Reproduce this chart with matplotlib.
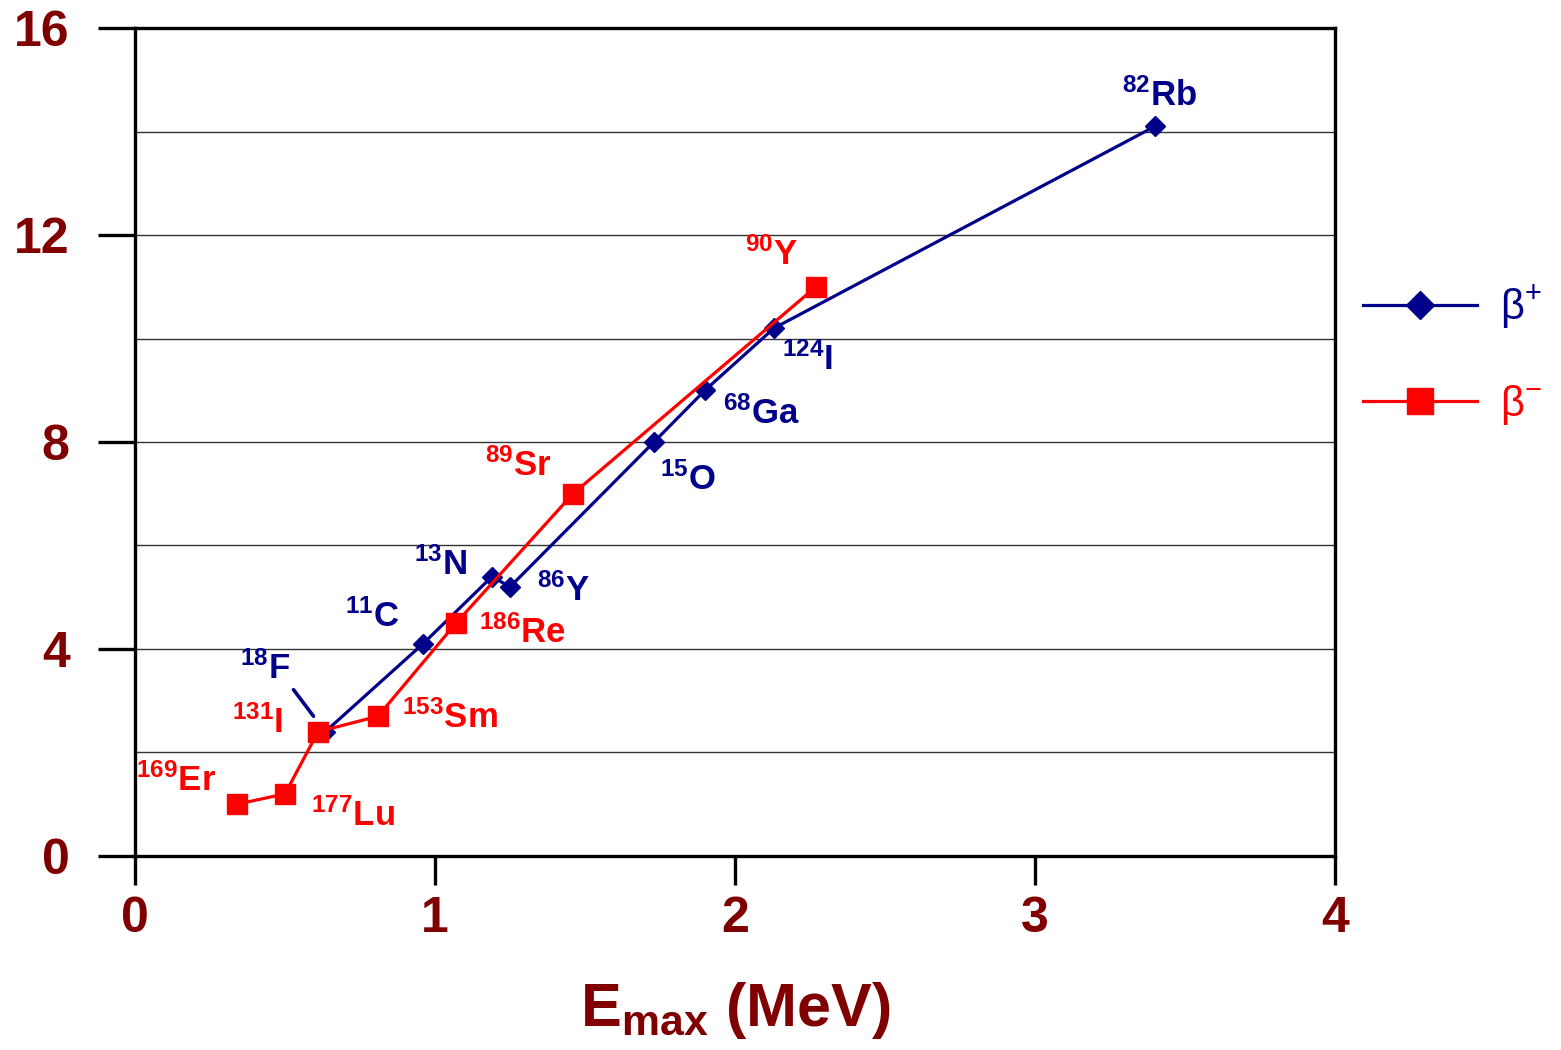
import matplotlib
matplotlib.use("Agg")
import matplotlib.pyplot as plt
from matplotlib.ticker import MultipleLocator

plt.rcParams['font.family'] = ['Liberation Sans', 'DejaVu Sans']
plt.rcParams['mathtext.default'] = 'regular'

# beta+ emitters: Emax (MeV) vs max range (mm)
bp_names = ['18F', '11C', '13N', '86Y', '15O', '68Ga', '124I', '82Rb']
bp_emax = [0.634, 0.96, 1.19, 1.25, 1.73, 1.90, 2.13, 3.40]
bp_range = [2.4, 4.1, 5.4, 5.2, 8.0, 9.0, 10.2, 14.1]

# beta- emitters
bm_names = ['169Er', '177Lu', '131I', '153Sm', '186Re', '89Sr', '90Y']
bm_emax = [0.34, 0.50, 0.61, 0.81, 1.07, 1.46, 2.27]
bm_range = [1.0, 1.2, 2.4, 2.7, 4.5, 7.0, 11.0]

# label offsets in pixels (left edge / baseline relative to the point)
bp_offsets = [(-85, 53), (-78, 17), (-78, 2), (27, -14), (6, -48), (18, -34), (8, -42), (-33, 21)]
bm_offsets = [(-101, 13), (26, -32), (-86, -1), (24, -12), (23, -20), (-88, 18), (-71, 22)]

navy = '#00008B'
red = '#FF0000'
maroon = '#800000'
label_size = 25


def iso_label(name):
    # split mass number and element symbol -> superscript mass number
    i = 0
    while name[i].isdigit():
        i += 1
    return r'$^{%s}$%s' % (name[:i], name[i:])


fig = plt.figure(figsize=(15.61, 10.5), dpi=100)
ax = fig.add_axes([0.0865, 0.1848, 0.7687, 0.7885])

ax.plot(bp_emax, bp_range, color=navy, lw=2.3, marker='D', ms=10.5, label=r'β$^{+}$', zorder=3)
ax.plot(bm_emax, bm_range, color=red, lw=2.3, marker='s', ms=14, label=r'β$^{-}$', zorder=3)

for name, x, y, off in zip(bp_names, bp_emax, bp_range, bp_offsets):
    if name == '18F':
        # 18F gets a short leader line
        ax.annotate(iso_label(name), (x, y), xytext=off, textcoords='offset pixels',
                    ha='left', va='baseline', fontsize=label_size, fontweight='bold', color=navy,
                    arrowprops=dict(arrowstyle='-', color=navy, lw=2.6, shrinkA=1, shrinkB=14,
                                    relpos=(1.0, 0.0)))
    else:
        ax.annotate(iso_label(name), (x, y), xytext=off, textcoords='offset pixels',
                    ha='left', va='baseline', fontsize=label_size, fontweight='bold', color=navy)

for name, x, y, off in zip(bm_names, bm_emax, bm_range, bm_offsets):
    ax.annotate(iso_label(name), (x, y), xytext=off, textcoords='offset pixels',
                ha='left', va='baseline', fontsize=label_size, fontweight='bold', color=red)

ax.set_xlim(0, 4)
ax.set_ylim(0, 16)
ax.xaxis.set_major_locator(MultipleLocator(1))
ax.yaxis.set_major_locator(MultipleLocator(4))
ax.yaxis.set_minor_locator(MultipleLocator(2))
ax.grid(axis='y', which='both', color='#333333', lw=1.0)
ax.set_axisbelow(True)

for s in ax.spines.values():
    s.set_linewidth(2.4)
    s.set_color('black')

ax.tick_params(axis='y', which='major', direction='out', length=27, width=2.4, pad=20,
               labelsize=36, labelcolor=maroon)
ax.tick_params(axis='y', which='minor', length=0)
ax.tick_params(axis='x', direction='out', length=21, width=2.4, pad=8,
               labelsize=36, labelcolor=maroon)
for lab in ax.get_xticklabels() + ax.get_yticklabels():
    lab.set_fontweight('bold')

ax.set_xlabel(r'E$_{max}$ (MeV)', fontsize=44, fontweight='bold', color=maroon, labelpad=27)

ax.legend(loc='center left', bbox_to_anchor=(1.023, 0.605), frameon=False,
          borderaxespad=0, borderpad=0, handlelength=2.75, handletextpad=0.55,
          labelspacing=1.25, markerscale=1.35, fontsize=30, labelcolor='linecolor')

fig.savefig('out.png', dpi=100)
